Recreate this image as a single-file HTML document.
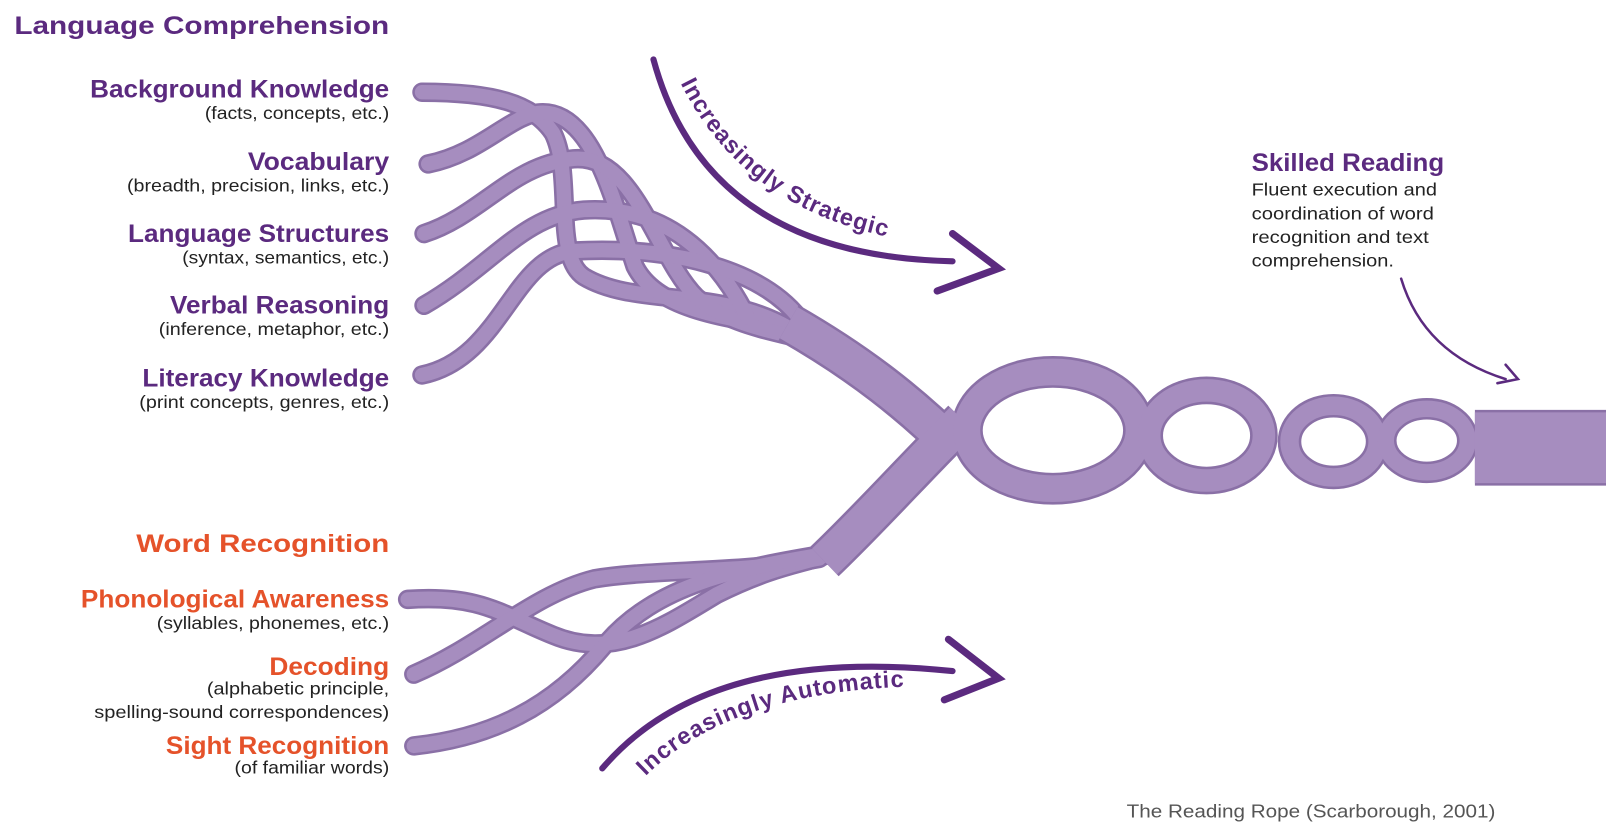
<!DOCTYPE html>
<html><head><meta charset="utf-8"><style>
html,body{margin:0;padding:0;background:#fff;}
svg{display:block;}
text{font-family:"Liberation Sans",sans-serif;}
.h{font-weight:bold;font-size:24px;fill:#5b2a7f;}
.o{font-weight:bold;font-size:24px;fill:#e5522a;}
.s{font-size:17px;fill:#222;}
</style></head><body>
<svg width="1606" height="834" viewBox="0 0 1568 814" preserveAspectRatio="none" xmlns="http://www.w3.org/2000/svg">
<defs>
<path id="arcS" d="M660,72 Q730,225 930,240"/>
<path id="arcA" d="M628,760 Q720,665 935,670"/>
</defs>
<g fill="none" stroke-linecap="round">
<g stroke="#8a70a6" stroke-width="19">
<path d="M412,90 C480,90 520,100 540,130 C560,170 540,250 570,270 C620,300 700,280 770,320"/>
<path d="M418,160 C470,150 500,110 530,110 C580,110 600,200 620,260 C640,300 700,310 770,320"/>
<path d="M414,228 C470,210 500,160 560,155 C620,150 640,250 680,290 C710,315 740,320 780,330"/>
<path d="M414,298 C480,260 510,210 570,205 C650,200 700,250 730,310"/>
<path d="M412,366 C490,350 500,250 560,245 C650,240 740,260 780,310"/>
<path d="M398,585 C470,580 490,600 540,620 C600,645 650,610 700,580 C760,550 790,550 810,540"/>
<path d="M404,658 C470,630 520,580 580,565 C640,555 720,560 800,545"/>
<path d="M404,728 C480,720 540,690 590,630 C640,570 720,555 810,540"/>
</g>
<g stroke="#a68dbf" stroke-width="14">
<path d="M412,90 C480,90 520,100 540,130 C560,170 540,250 570,270 C620,300 700,280 770,320"/>
<path d="M418,160 C470,150 500,110 530,110 C580,110 600,200 620,260 C640,300 700,310 770,320"/>
<path d="M414,228 C470,210 500,160 560,155 C620,150 640,250 680,290 C710,315 740,320 780,330"/>
<path d="M414,298 C480,260 510,210 570,205 C650,200 700,250 730,310"/>
<path d="M412,366 C490,350 500,250 560,245 C650,240 740,260 780,310"/>
<path d="M398,585 C470,580 490,600 540,620 C600,645 650,610 700,580 C760,550 790,550 810,540"/>
<path d="M404,658 C470,630 520,580 580,565 C640,555 720,560 800,545"/>
<path d="M404,728 C480,720 540,690 590,630 C640,570 720,555 810,540"/>
</g>
<g stroke="#8a70a6" stroke-width="40">
<path d="M770,315 C840,355 890,395 935,440" stroke-linecap="butt"/>
<path d="M940,410 C890,460 850,505 805,548" stroke-linecap="butt"/>
<ellipse cx="1028" cy="420" rx="84" ry="57" stroke-width="31"/>
<ellipse cx="1178" cy="425" rx="56" ry="44" stroke-width="27"/>
<ellipse cx="1302" cy="431" rx="43" ry="35" stroke-width="23"/>
<ellipse cx="1393" cy="430" rx="40" ry="31" stroke-width="21"/>
<path d="M1440,437 L1580,437" stroke-width="74" stroke-linecap="butt"/>
</g>
<g stroke="#a68dbf" stroke-width="35">
<path d="M770,315 C840,355 890,395 935,440" stroke-linecap="butt"/>
<path d="M940,410 C890,460 850,505 805,548" stroke-linecap="butt"/>
<ellipse cx="1028" cy="420" rx="84" ry="57" stroke-width="26"/>
<ellipse cx="1178" cy="425" rx="56" ry="44" stroke-width="22"/>
<ellipse cx="1302" cy="431" rx="43" ry="35" stroke-width="18"/>
<ellipse cx="1393" cy="430" rx="40" ry="31" stroke-width="16"/>
<path d="M1440,437 L1580,437" stroke-width="69" stroke-linecap="butt"/>
</g>
<g stroke="#5b2a7f">
<path d="M638,58 Q690,250 930,255" stroke-width="6"/>
<path d="M930,228 L975,262 L915,284" stroke-width="7"/>
<path d="M588,750 Q690,630 930,655" stroke-width="6"/>
<path d="M926,624 L975,662 L922,683" stroke-width="7"/>
<path d="M1368,272 Q1390,345 1470,370" stroke-width="2.5"/>
<path d="M1470,356 L1482,370 L1462,374" stroke-width="2.5"/>
</g>
</g>
<text font-weight="bold" font-size="23" fill="#5b2a7f" letter-spacing="1"><textPath href="#arcS" startOffset="3%">Increasingly Strategic</textPath></text>
<text font-weight="bold" font-size="23" fill="#5b2a7f" letter-spacing="1"><textPath href="#arcA" startOffset="1%">Increasingly Automatic</textPath></text>
<text class="h" x="14" y="33" font-size="26" textLength="366" lengthAdjust="spacingAndGlyphs">Language Comprehension</text>
<g text-anchor="end">
<text class="h" x="380" y="95" textLength="292" lengthAdjust="spacingAndGlyphs">Background Knowledge</text>
<text class="s" x="380" y="116" textLength="180" lengthAdjust="spacingAndGlyphs">(facts, concepts, etc.)</text>
<text class="h" x="380" y="166" textLength="138" lengthAdjust="spacingAndGlyphs">Vocabulary</text>
<text class="s" x="380" y="187" textLength="256" lengthAdjust="spacingAndGlyphs">(breadth, precision, links, etc.)</text>
<text class="h" x="380" y="236" textLength="255" lengthAdjust="spacingAndGlyphs">Language Structures</text>
<text class="s" x="380" y="257" textLength="202" lengthAdjust="spacingAndGlyphs">(syntax, semantics, etc.)</text>
<text class="h" x="380" y="306" textLength="214" lengthAdjust="spacingAndGlyphs">Verbal Reasoning</text>
<text class="s" x="380" y="327" textLength="225" lengthAdjust="spacingAndGlyphs">(inference, metaphor, etc.)</text>
<text class="h" x="380" y="377" textLength="241" lengthAdjust="spacingAndGlyphs">Literacy Knowledge</text>
<text class="s" x="380" y="398" textLength="244" lengthAdjust="spacingAndGlyphs">(print concepts, genres, etc.)</text>
<text class="o" x="380" y="539" font-size="26" textLength="247" lengthAdjust="spacingAndGlyphs">Word Recognition</text>
<text class="o" x="380" y="593" textLength="301" lengthAdjust="spacingAndGlyphs">Phonological Awareness</text>
<text class="s" x="380" y="614" textLength="227" lengthAdjust="spacingAndGlyphs">(syllables, phonemes, etc.)</text>
<text class="o" x="380" y="659" textLength="117" lengthAdjust="spacingAndGlyphs">Decoding</text>
<text class="s" x="380" y="678" textLength="178" lengthAdjust="spacingAndGlyphs">(alphabetic principle,</text>
<text class="s" x="380" y="701" textLength="288" lengthAdjust="spacingAndGlyphs">spelling-sound correspondences)</text>
<text class="o" x="380" y="736" textLength="218" lengthAdjust="spacingAndGlyphs">Sight Recognition</text>
<text class="s" x="380" y="755" textLength="151" lengthAdjust="spacingAndGlyphs">(of familiar words)</text>
</g>
<text class="h" x="1222" y="167" textLength="188" lengthAdjust="spacingAndGlyphs">Skilled Reading</text>
<text class="s" x="1222" y="191" textLength="181" lengthAdjust="spacingAndGlyphs">Fluent execution and</text>
<text class="s" x="1222" y="214" textLength="178" lengthAdjust="spacingAndGlyphs">coordination of word</text>
<text class="s" x="1222" y="237" textLength="173" lengthAdjust="spacingAndGlyphs">recognition and text</text>
<text class="s" x="1222" y="260" textLength="139" lengthAdjust="spacingAndGlyphs">comprehension.</text>
<text x="1100" y="798" font-size="18" fill="#555" textLength="360" lengthAdjust="spacingAndGlyphs">The Reading Rope (Scarborough, 2001)</text>
</svg>
</body></html>
